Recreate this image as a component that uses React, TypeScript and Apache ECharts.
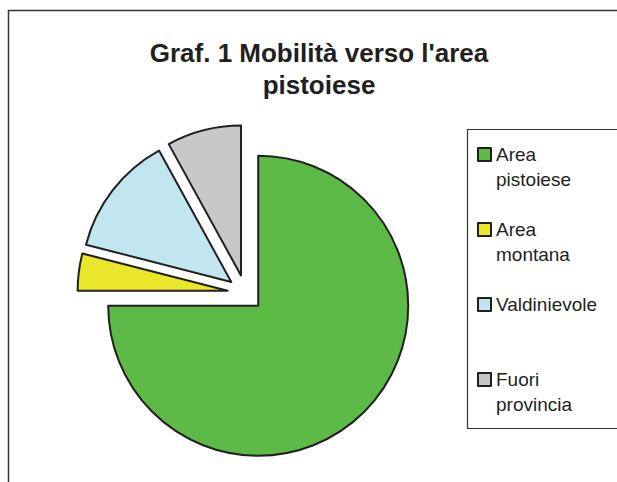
import React, { useEffect, useRef } from "react";
import * as echarts from "echarts";

const titleLines = ["Graf. 1 Mobilità verso l'area", "pistoiese"];
const categories = ["Area pistoiese", "Area montana", "Valdinievole", "Fuori provincia"];
const values = [75, 4, 13, 8];
const legendLines: string[][] = [["Area", "pistoiese"], ["Area", "montana"], ["Valdinievole"], ["Fuori", "provincia"]];
const colors = ["#5DBA46", "#EAE62A", "#C2E6F0", "#C7C8CA"];

export default function App() {
  const ref = useRef<HTMLDivElement>(null);
  useEffect(() => {
    if (!ref.current) return;
    const chart = echarts.init(ref.current, null, { renderer: "svg" });
    const ink = "#231F20";
    chart.setOption({
      animation: false,
      backgroundColor: "#ffffff",
      title: {
        text: titleLines.join("\n"),
        left: 319,
        top: 37,
        padding: 0,
        textAlign: "center",
        textStyle: {
          fontFamily: "Liberation Sans",
          fontSize: 26,
          fontWeight: "bold",
          lineHeight: 32,
          color: ink,
        },
      },
      legend: {
        orient: "vertical",
        left: 477,
        top: 117,
        padding: 0,
        itemWidth: 13,
        itemHeight: 13,
        itemGap: 0,
        icon: "rect",
        selectedMode: false,
        data: categories,
        formatter: (name: string) => {
          const i = categories.indexOf(name);
          const l = legendLines[i];
          return "\n" + l[0] + "\n" + (l[1] ?? "");
        },
        textStyle: {
          fontFamily: "Liberation Sans",
          fontSize: 19,
          lineHeight: 25,
          color: ink,
        },
      },
      graphic: [
        {
          type: "polyline",
          shape: { points: [[720, 10.5], [8.5, 10.5], [8.5, 600]] },
          style: { fill: "none", stroke: "#333333", lineWidth: 1.5 },
          silent: true,
          z: -10,
        },
        {
          type: "polyline",
          shape: { points: [[720, 129.5], [467.5, 129.5], [467.5, 428.5], [720, 428.5]] },
          style: { fill: "none", stroke: "#333333", lineWidth: 1.2 },
          silent: true,
          z: -10,
        },
      ],
      series: [
        {
          type: "pie",
          center: [245.5, 293],
          radius: 150,
          startAngle: 90,
          clockwise: true,
          selectedMode: "multiple",
          selectedOffset: 18,
          label: { show: false },
          labelLine: { show: false },
          emphasis: { disabled: true },
          itemStyle: { borderColor: ink, borderWidth: 2 },
          data: categories.map((name, i) => ({
            name,
            value: values[i],
            selected: true,
            itemStyle: { color: colors[i] },
          })),
        },
      ],
    });
    return () => chart.dispose();
  }, []);
  return (
    <div
      ref={ref}
      style={{ position: "fixed", left: 0, top: 0, width: 640, height: 482 }}
    />
  );
}
